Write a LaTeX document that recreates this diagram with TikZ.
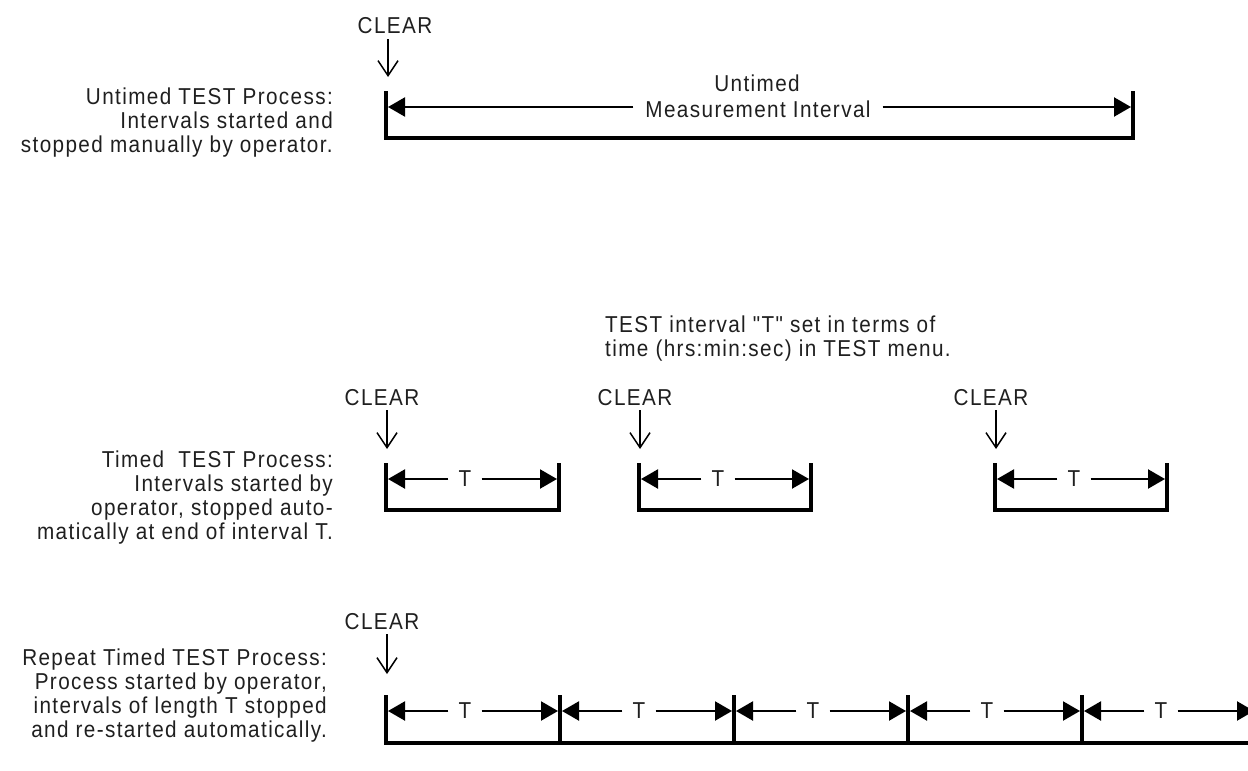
\documentclass[tikz,border=0pt]{standalone}
\usepackage{fontspec}
\setmainfont{Liberation Sans}[FakeStretch=0.9, LetterSpace=6, Ligatures=TeXOff]
\usetikzlibrary{arrows.meta}
\begin{document}
\begin{tikzpicture}[x=1pt,y=-1pt,
  txt/.style={inner sep=0pt, font=\fontsize{23}{25}\selectfont, text=black!88},
  barline/.style={line width=4pt, line join=miter, line cap=butt},
  dimarr/.style={line width=2.2pt, -{Triangle[length=17pt,width=19pt]}},
  clrarr/.style={line width=1.5pt, -{Straight Barb[length=15pt,width=20pt]}},
  tlab/.style={txt, inner xsep=10pt}]
\useasboundingbox (0,0) rectangle (1248,771);
\clip (0,0) rectangle (1248,771);

% ---------------- Untimed ----------------
\node[txt, anchor=base east] (ut1) at (333,104) {Untimed TEST Process:};
\node[txt, anchor=base east] (ut2) at (333,128) {Intervals started and};
\node[txt, anchor=base east] (ut3) at (333,152) {stopped manually by operator.};

\node[txt, anchor=base] (uclr) at (395,34) {CLEAR};
\coordinate (ua0) at (388,39);
\coordinate (ua1) at (388,77);
\draw[clrarr] (ua0) -- (ua1);

\coordinate (uLt) at (386,91);
\coordinate (uLb) at (386,138);
\coordinate (uRb) at (1133,138);
\coordinate (uRt) at (1133,91);
\draw[barline] (uLt) -- (uLb) -- (uRb) -- (uRt);

\node[txt, anchor=base] (uun) at (757,91) {Untimed};
\node[txt, anchor=base, inner xsep=12pt] (umi) at (758,117) {Measurement Interval};
\coordinate (uaL) at (388,107);
\coordinate (uaR) at (1131,107);
\draw[dimarr] (umi.west |- uaL) -- (uaL);
\draw[dimarr] (umi.east |- uaR) -- (uaR);

% ---------------- Timed ----------------
\node[txt, anchor=base east] (tt1) at (333,467) {Timed~ TEST Process:};
\node[txt, anchor=base east] (tt2) at (333,491) {Intervals started by};
\node[txt, anchor=base east] (tt3) at (333,515) {operator, stopped auto-};
\node[txt, anchor=base east] (tt4) at (333,539) {matically at end of interval T.};

\node[txt, anchor=base west] (tm1) at (605,332) {TEST interval "T" set in terms of};
\node[txt, anchor=base west] (tm2) at (605,356) {time (hrs:min:sec) in TEST menu.};

\foreach \i/\L/\R in {1/386/559, 2/639/811, 3/995/1167} {
  \node[txt, anchor=base] (tclr\i) at (\L-4,405) {CLEAR};
  \coordinate (ta\i0) at (\L+1,410);
  \coordinate (ta\i1) at (\L+1,449);
  \draw[clrarr] (ta\i0) -- (ta\i1);
  \coordinate (tL\i t) at (\L,463);
  \coordinate (tL\i b) at (\L,510);
  \coordinate (tR\i b) at (\R,510);
  \coordinate (tR\i t) at (\R,463);
  \draw[barline] (tL\i t) -- (tL\i b) -- (tR\i b) -- (tR\i t);
  \node[tlab] (tT\i) at (\L+79,479) {T};
  \coordinate (tpL\i) at (\L+2,479);
  \coordinate (tpR\i) at (\R-2,479);
  \draw[dimarr] (tT\i.west) -- (tpL\i);
  \draw[dimarr] (tT\i.east) -- (tpR\i);
}

% ---------------- Repeat timed ----------------
\node[txt, anchor=base east] (rt1) at (327,665) {Repeat Timed TEST Process:};
\node[txt, anchor=base east] (rt2) at (327,689) {Process started by operator,};
\node[txt, anchor=base east] (rt3) at (327,713) {intervals of length T stopped};
\node[txt, anchor=base east] (rt4) at (327,737) {and re-started automatically.};

\node[txt, anchor=base] (rclr) at (382,629) {CLEAR};
\coordinate (ra0) at (387,634);
\coordinate (ra1) at (387,674);
\draw[clrarr] (ra0) -- (ra1);

\coordinate (r0t) at (386,695);
\coordinate (r0b) at (386,743);
\coordinate (rEnd) at (1262,743);
\draw[barline] (r0t) -- (r0b) -- (rEnd);
\foreach \i/\X in {1/560, 2/734, 3/908, 4/1082} {
  \coordinate (r\i t) at (\X,695);
  \coordinate (r\i b) at (\X,745);
  \draw[barline] (r\i t) -- (r\i b);
}
\foreach \i/\L/\R in {1/386/560, 2/560/734, 3/734/908, 4/908/1082, 5/1082/1256} {
  \node[tlab] (rT\i) at (\L+79,711) {T};
  \coordinate (rpL\i) at (\L+2,711);
  \coordinate (rpR\i) at (\R-2,711);
  \draw[dimarr] (rT\i.west) -- (rpL\i);
  \draw[dimarr] (rT\i.east) -- (rpR\i);
}
\end{tikzpicture}
\end{document}
